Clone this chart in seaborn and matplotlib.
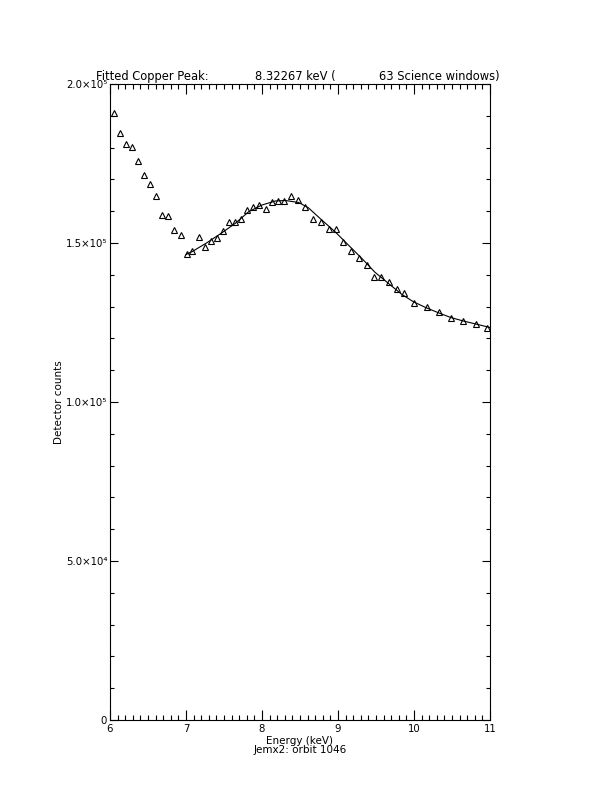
import matplotlib
matplotlib.use("Agg")
import matplotlib.pyplot as plt
import seaborn as sns
import pandas as pd
from matplotlib.ticker import MultipleLocator, FixedLocator, FixedFormatter

# ---- data ----
energy = [6.049, 6.128, 6.207, 6.286, 6.364, 6.443, 6.526, 6.605, 6.684, 6.763,
          6.846, 6.930, 7.009, 7.083, 7.167, 7.246, 7.325, 7.404, 7.487, 7.566,
          7.649, 7.728, 7.807, 7.886, 7.964, 8.049, 8.128, 8.207, 8.283, 8.382,
          8.474, 8.570, 8.675, 8.776, 8.882, 8.974, 9.070, 9.171, 9.276, 9.378,
          9.474, 9.566, 9.671, 9.772, 9.868, 10.000, 10.167, 10.329, 10.483,
          10.649, 10.812, 10.964]
counts = [190977, 184500, 181132, 180283, 175786, 171384, 168553, 164780, 158805,
          158491, 154088, 152516, 146447, 147484, 151792, 148742, 150723, 151478,
          153774, 156604, 156604, 157547, 160377, 161321, 161950, 160692, 162987,
          163302, 163208, 164875, 163522, 161321, 157453, 156700, 154308, 154308,
          150222, 147579, 145283, 143082, 139214, 139214, 137832, 135535, 134184,
          131038, 129780, 128302, 126417, 125472, 124624, 123367]

fit_energy = [7.000, 7.079, 7.276, 7.474, 7.649, 7.825, 8.000, 8.175, 8.307, 8.483,
              8.609, 8.786, 8.961, 9.136, 9.312, 9.487, 9.662, 9.838, 9.991, 10.167,
              10.329, 10.483, 10.649, 10.812, 11.000]
fit_counts = [146386, 147266, 150097, 153241, 156197, 159845, 161952, 163210, 163367,
              162738, 161103, 157235, 153555, 149373, 145191, 140788, 137329, 133870,
              131543, 129562, 127989, 126574, 125474, 124530, 123430]

x_ticks = [6, 7, 8, 9, 10, 11]
y_ticks = [0, 50000, 100000, 150000, 200000]
y_tick_labels = ["0", "5.0×10⁴", "1.0×10⁵", "1.5×10⁵", "2.0×10⁵"]

title_parts = ["Fitted Copper Peak:", "8.32267 keV (", "63 Science windows)"]
x_label = "Energy (keV)\nJemx2: orbit 1046"
y_label = "Detector counts"

# ---- plotting ----
sns.set_style("ticks")
plt.rcParams["font.family"] = ["DejaVu Sans"]
plt.rcParams["text.color"] = "black"
plt.rcParams["axes.labelcolor"] = "black"
plt.rcParams["xtick.color"] = "black"
plt.rcParams["ytick.color"] = "black"

fig = plt.figure(figsize=(6.12, 7.92), dpi=100)
fig.patch.set_facecolor("white")
ax = fig.add_axes([110 / 612, 1 - 720 / 792, 380 / 612, 636 / 792])

df_pts = pd.DataFrame({"energy": energy, "counts": counts})
df_fit = pd.DataFrame({"energy": fit_energy, "counts": fit_counts})

sns.lineplot(data=df_fit, x="energy", y="counts", ax=ax, color="black",
             linewidth=0.8, estimator=None, sort=True)
sns.lineplot(data=df_pts, x="energy", y="counts", ax=ax, estimator=None,
             linestyle="", marker="^", markersize=5, markerfacecolor="none",
             markeredgecolor="black", markeredgewidth=0.8, color="black")

ax.set_xlim(6, 11)
ax.set_ylim(0, 200000)
ax.xaxis.set_major_locator(FixedLocator(x_ticks))
ax.set_xticklabels([str(t) for t in x_ticks])
ax.xaxis.set_minor_locator(MultipleLocator(0.1))
ax.yaxis.set_major_locator(FixedLocator(y_ticks))
ax.yaxis.set_major_formatter(FixedFormatter(y_tick_labels))
ax.yaxis.set_minor_locator(MultipleLocator(10000))

for s in ax.spines.values():
    s.set_visible(True)
    s.set_linewidth(0.8)
    s.set_color("black")

ax.tick_params(axis="both", which="both", direction="in", top=True, right=True,
               width=0.8, colors="black", labelcolor="black", labelsize=7.3)
ax.tick_params(axis="x", which="major", length=7.2, pad=3)
ax.tick_params(axis="x", which="minor", length=3.6)
ax.tick_params(axis="y", which="major", length=5.8, pad=2)
ax.tick_params(axis="y", which="minor", length=2.9)

ax.set_xlabel(x_label, fontsize=7.5, linespacing=0.95, labelpad=1, color="black")
ax.set_ylabel(y_label, fontsize=7.5, labelpad=1, color="black")
ax.grid(False)

ty = 1 - 80 / 792
fig.text(96 / 612, ty, title_parts[0], fontsize=8.3, va="baseline", ha="left", color="black")
fig.text(255 / 612, ty, title_parts[1], fontsize=8.3, va="baseline", ha="left", color="black")
fig.text(500 / 612, ty, title_parts[2], fontsize=8.3, va="baseline", ha="right", color="black")

fig.savefig("out.png", dpi=100, facecolor="white")
